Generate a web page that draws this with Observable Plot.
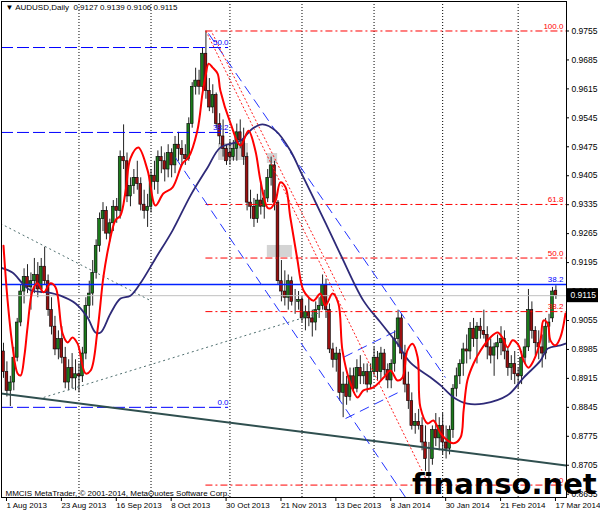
<!DOCTYPE html>
<html><head><meta charset="utf-8">
<script src="https://cdn.jsdelivr.net/npm/d3@7"></script>
<script src="https://cdn.jsdelivr.net/npm/@observablehq/plot@0.6"></script>
<style>
body{margin:0;background:#fff}
#wrap{position:relative;width:600px;height:514px;overflow:hidden}
#wm{position:absolute;left:412px;top:470px;font:bold 29px "DejaVu Sans",sans-serif;line-height:29px;color:#000;white-space:nowrap}
</style></head>
<body><div id="wrap"></div>
<script>
// ---- candle data (bar index = position in arrays) ----
const open = [.8980,.8930,.8885,.8905,.8965,.9050,.9125,.9160,.9135,.9150,.9165,.9130,.9185,.9150,.9080,.9040,.8985,.9010,.8965,.8905,.8940,.8915,
.8925,.8920,.8975,.9090,.9120,.9170,.9235,.9300,.9320,.9265,.9290,.9330,.9320,.9450,.9440,.9355,.9380,.9400,.9385,.9335,.9320,
.9330,.9405,.9390,.9450,.9440,.9420,.9460,.9430,.9480,.9470,.9455,.9445,.9530,.9620,.9635,.9620,.9700,.9610,.9570,.9600,.9530,.9500,.9470,
.9460,.9450,.9470,.9510,.9490,.9450,.9340,.9330,.9300,.9345,.9330,.9350,.9400,.9430,.9340,.9150,.9125,.9110,.9150,.9100,.9100,
.9105,.9060,.9075,.9060,.9050,.9080,.9090,.9140,.9080,.8985,.8960,.8975,.8880,.8900,.8870,.8920,.8890,.8940,.8920,.8930,.8900,
.8930,.8965,.8930,.8975,.8935,.8910,.8950,.9010,.9060,.8975,.8900,.8860,.8800,.8810,.8800,.8760,.8720,.8720,.8790,.8770,.8800,.8760,
.8745,.8790,.8890,.8920,.8950,.8985,.8980,.9035,.9010,.9040,.9030,.9020,.8990,.8970,.8990,.9000,.9010,.8980,.8940,.8950,
.8925,.8920,.8965,.8990,.9080,.9030,.9000,.8990,.8975,.9040,.9060,.9127];
const high = [.9000,.8955,.8920,.8990,.9060,.9140,.9180,.9190,.9170,.9205,.9195,.9205,.9232,.9165,.9110,.9065,.9030,.9040,.8990,.8960,.8975,.8960,
.8950,.8990,.9110,.9150,.9200,.9250,.9315,.9340,.9330,.9300,.9345,.9350,.9465,.9528,.9460,.9400,.9420,.9440,.9400,.9370,.9360,
.9420,.9440,.9465,.9475,.9460,.9480,.9470,.9500,.9510,.9490,.9480,.9545,.9630,.9665,.9660,.9715,.9755,.9640,.9625,.9605,.9555,.9540,.9480,
.9490,.9490,.9530,.9540,.9520,.9460,.9370,.9350,.9360,.9390,.9370,.9420,.9450,.9440,.9345,.9200,.9175,.9165,.9160,.9130,.9125,
.9115,.9090,.9110,.9080,.9100,.9110,.9165,.9155,.9095,.9000,.8990,.8985,.8930,.8920,.8940,.8940,.8960,.8970,.8950,.8950,.8950,
.8990,.8980,.8990,.8985,.8950,.8960,.9030,.9080,.9070,.8995,.8930,.8880,.8830,.8840,.8820,.8800,.8760,.8800,.8830,.8820,.8830,.8800,
.8800,.8900,.8940,.8960,.9000,.9020,.9050,.9060,.9050,.9060,.9080,.9040,.9010,.9000,.9020,.9040,.9030,.8990,.8970,.8980,
.8940,.8980,.9010,.9130,.9100,.9040,.9030,.9020,.9060,.9070,.9135,.9139];
const low = [.8915,.8870,.8847,.8885,.8955,.9040,.9095,.9120,.9080,.9120,.9110,.9120,.9140,.9065,.9020,.8970,.8960,.8950,.8890,.8885,.8890,.8885,
.8880,.8905,.8960,.9060,.9090,.9155,.9220,.9270,.9250,.9245,.9270,.9290,.9300,.9420,.9340,.9330,.9360,.9370,.9320,.9300,.9280,
.9315,.9370,.9360,.9410,.9390,.9400,.9400,.9410,.9440,.9430,.9430,.9440,.9520,.9600,.9600,.9610,.9590,.9560,.9555,.9520,.9480,.9450,.9430,
.9430,.9440,.9440,.9470,.9430,.9320,.9300,.9280,.9290,.9310,.9300,.9340,.9380,.9320,.9140,.9100,.9090,.9080,.9090,.9070,.9080,
.9050,.9030,.9040,.9015,.9030,.9060,.9080,.9060,.8975,.8940,.8930,.8860,.8820,.8850,.8860,.8880,.8880,.8900,.8900,.8880,.8890,
.8920,.8910,.8910,.8920,.8890,.8890,.8930,.8990,.8960,.8880,.8840,.8790,.8780,.8790,.8740,.8690,.8659,.8705,.8750,.8740,.8730,.8720,
.8730,.8770,.8870,.8900,.8920,.8950,.8960,.8990,.8950,.9010,.9010,.8960,.8950,.8920,.8960,.8970,.8960,.8920,.8910,.8900,
.8890,.8900,.8950,.8980,.9010,.8970,.8960,.8940,.8960,.9000,.9050,.9106];
const close = [.8930,.8885,.8905,.8965,.9050,.9125,.9160,.9135,.9150,.9165,.9130,.9185,.9150,.9080,.9040,.8985,.9010,.8965,.8905,.8940,.8915,.8925,
.8920,.8975,.9090,.9120,.9170,.9235,.9300,.9320,.9265,.9290,.9330,.9320,.9450,.9440,.9355,.9380,.9400,.9385,.9335,.9320,.9330,
.9405,.9390,.9450,.9440,.9420,.9460,.9430,.9480,.9470,.9455,.9445,.9530,.9620,.9635,.9620,.9700,.9610,.9570,.9600,.9530,.9500,.9470,.9440,
.9450,.9470,.9510,.9490,.9450,.9340,.9330,.9300,.9345,.9330,.9350,.9400,.9430,.9340,.9150,.9125,.9110,.9150,.9100,.9100,.9105,
.9060,.9075,.9060,.9050,.9080,.9090,.9140,.9080,.8985,.8960,.8975,.8880,.8900,.8870,.8920,.8890,.8940,.8920,.8930,.8900,.8930,
.8965,.8930,.8975,.8935,.8910,.8950,.9010,.9060,.8975,.8900,.8860,.8800,.8810,.8800,.8760,.8720,.8720,.8790,.8770,.8800,.8760,.8745,
.8790,.8890,.8920,.8950,.8985,.8980,.9035,.9010,.9040,.9030,.9020,.8990,.8970,.8990,.9000,.9010,.8980,.8940,.8950,.8925,
.8920,.8965,.8990,.9080,.9030,.9000,.8990,.8975,.9040,.9050,.9125,.9115];

// ---- moving averages (bar, price) ----
const redBar = [0,1.2,2.6,4.1,5,6.1,7,8.5,9.9,11.7,13.7,15.2,17.2,18.7,20.1,21.6,23.9,25.4,27.4,29.1,30.6,32.6,34.1,35.6,37,39.3,42,44.3,46.6,49.3,52.2,53.9,56.5,58,58.9,59.8,60.9,62.4,63.2,66.2,69.1,71.4,73.4,74.9,76.9,77.8,79.3,80.7,82.2,83.6,85.7,86.6,87.4,88.9,90.4,92.4,93.8,95.9,97.6,98.8,101.1,103.2,104.9,107.8,110.8,112.8,114.8,116.3,117.7,119.2,120.7,121.5,123.6,125.3,127.4,129.4,131.2,133.2,134.1,135.2,137,139,141.9,144,145.4,146.9,148.4,150.1,151.6,153,154.5,156.5,157.4,158.6,159.4,160.9,162.3,163.8];
const redPrice = [.9236,.9103,.8995,.8927,.8922,.8970,.9038,.9128,.9145,.9123,.9145,.9135,.9024,.9002,.9014,.8999,.8927,.8934,.9031,.9159,.9232,.9297,.9309,.9369,.9447,.9473,.9418,.9333,.9362,.9377,.9435,.9449,.9514,.9604,.9647,.9676,.9667,.9652,.9611,.9531,.9478,.9514,.9466,.9393,.9328,.9326,.9345,.9389,.9377,.9304,.9200,.9152,.9128,.9111,.9103,.9120,.9091,.9120,.9096,.8982,.8903,.8869,.8886,.8893,.8917,.8934,.8910,.8917,.8982,.8999,.8966,.8845,.8806,.8813,.8782,.8765,.8758,.8772,.8837,.8910,.8951,.8982,.9014,.9026,.9014,.8990,.9007,.8995,.8958,.8941,.8958,.9007,.9055,.9048,.9007,.8995,.9014,.9072];
const navyBar = [-0.9,2.6,5.5,7.9,12.8,16.6,21,24.5,26.8,28.3,31.2,34.1,37,39.9,44.3,49.3,54.5,59.5,63.2,69.1,72.6,75.5,79.3,83.6,86.6,92.4,98.2,104.9,109.9,114.8,118.6,124.5,127.4,131.2,135.2,139.9,146.9,151.6,156.5,158.6,162.3,163.8];
const navyPrice = [.9183,.9171,.9145,.9128,.9123,.9115,.9096,.9062,.9026,.9026,.9072,.9108,.9115,.9145,.9205,.9273,.9357,.9425,.9473,.9490,.9519,.9529,.9514,.9466,.9415,.9316,.9215,.9103,.9050,.8999,.8953,.8917,.8898,.8869,.8854,.8854,.8874,.8917,.8958,.8987,.8995,.8999];

// ---- axes ----
const tickBars = [0,16,32,48,64,80,96,112,128,144,160];
const tickLabels = ["1 Aug 2013","23 Aug 2013","16 Sep 2013","8 Oct 2013","30 Oct 2013","21 Nov 2013","13 Dec 2013","8 Jan 2014","30 Jan 2014","21 Feb 2014","17 Mar 2014"];
const priceTicks = [0.9755,0.9685,0.9615,0.9545,0.9475,0.9405,0.9335,0.9265,0.9195,0.9125,0.9055,0.8985,0.8915,0.8845,0.8775,0.8705,0.8635];
const gridBars = [22,43,66,87,108,128,150];

// ---- objects ----
const fibRedLevels = [0,38.2,50,61.8,100];
const fibRedLow = 0.8657, fibRedHigh = 0.9755, fibRedStart = 59;
const fibBlueLevels = [0,38.2,50];
const fibBlueLow = 0.8845, fibBlueHigh = 1.0585, fibBlueEnd = 65.6;
const blueLevel = 0.9142;
const bid = 0.9115;
const titleText = "\u25BC AUDUSD,Daily\u00a0\u00a00.9127 0.9139 0.9106 0.9115";
const copyText = "MMCIS MetaTrader, \u00a9 2001-2014, MetaQuotes Software Corp.";
const grayRects = [{x1:62.7,x2:71.4,y1:0.94830,y2:0.94419},{x1:76.9,x2:79.9,y1:0.94588,y2:0.94346},{x1:76.9,x2:84.2,y1:0.92364,y2:0.92074}];
const tealLines = [{x1:-0.9,y1:0.88785,x2:164.1,y2:0.87044}];
const grayDotLines = [{x1:-0.9,y1:0.92895,x2:42.8,y2:0.91033},{x1:11.7,y1:0.88689,x2:92.4,y2:0.90744}];
const blueChannel = [{x1:59.75,y1:0.9749,x2:128.8,y2:0.8917},{x1:50.1,y1:0.9449,x2:117.2,y2:0.8627},{x1:99.1,y1:0.8966,x2:114.8,y2:0.9031},{x1:99.7,y1:0.8818,x2:116.3,y2:0.8886}];
const redDotLines = [{x1:59,y1:0.9755,x2:124,y2:0.8657},{x1:60.9,y1:0.9749,x2:99.7,y2:0.9103}];

const xMin = -0.58, xMax = 164.09;
const bars = close.map((c,i)=>({i,o:open[i],h:high[i],l:low[i],c}));
const up = bars.filter(d=>d.c>=d.o), dn = bars.filter(d=>d.c<d.o);
const redMA = redBar.map((b,k)=>({b,p:redPrice[k]}));
const navyMA = navyBar.map((b,k)=>({b,p:navyPrice[k]}));
const fibR = fibRedLevels.map(l=>({l,p:fibRedLow+l/100*(fibRedHigh-fibRedLow)}));
const fibB = fibBlueLevels.map(l=>({l,p:fibBlueLow+l/100*(fibBlueHigh-fibBlueLow)}));

const chart = Plot.plot({
  width:600, height:514,
  marginLeft:1, marginRight:34, marginTop:1, marginBottom:17,
  x:{domain:[xMin,xMax], axis:null},
  y:{domain:[0.8627,0.98263], axis:null},
  style:{fontFamily:"'Liberation Sans', Arial, sans-serif", fontSize:"8px", background:"#fff", overflow:"visible", color:"#000"},
  marks:[
    Plot.rect(grayRects,{x1:"x1",x2:"x2",y1:"y1",y2:"y2",fill:"#d4d4d4"}),
    Plot.ruleX(gridBars,{stroke:"#000",strokeDasharray:"1,2",strokeWidth:1}),
    // candles
    Plot.ruleX(bars,{x:"i",y1:"l",y2:"h",stroke:"#222",strokeWidth:1}),
    Plot.rect(up,{x1:d=>d.i-0.4,x2:d=>d.i+0.4,y1:"o",y2:"c",fill:"#1b7a1b",stroke:"#000",strokeWidth:0.6}),
    Plot.rect(dn,{x1:d=>d.i-0.4,x2:d=>d.i+0.4,y1:"o",y2:"c",fill:"#9a1010",stroke:"#000",strokeWidth:0.6}),
    // horizontal levels
    Plot.ruleY(fibR,{y:"p",x1:fibRedStart,x2:xMax,stroke:"#ff0000",strokeDasharray:"7,3,2,3",strokeWidth:1}),
    Plot.ruleY(fibB,{y:"p",x1:xMin,x2:fibBlueEnd,stroke:"#0000ff",strokeDasharray:"12,4",strokeWidth:1}),
    Plot.ruleY([bid],{stroke:"#c0c0c0",strokeWidth:1}),
    Plot.ruleY([blueLevel],{stroke:"#0022ff",strokeWidth:1.6}),
    // diagonal objects
    Plot.link(tealLines,{x1:"x1",y1:"y1",x2:"x2",y2:"y2",stroke:"#2f4f4f",strokeWidth:2,clip:true}),
    Plot.link(grayDotLines,{x1:"x1",y1:"y1",x2:"x2",y2:"y2",stroke:"#4f6f6f",strokeDasharray:"2,3",strokeWidth:1,clip:true}),
    Plot.link(blueChannel,{x1:"x1",y1:"y1",x2:"x2",y2:"y2",stroke:"#2233ff",strokeDasharray:"10,6",strokeWidth:1,clip:true}),
    Plot.link(redDotLines,{x1:"x1",y1:"y1",x2:"x2",y2:"y2",stroke:"#ff2020",strokeDasharray:"2,2",strokeWidth:1,clip:true}),
    // moving averages
    Plot.line(navyMA,{x:"b",y:"p",stroke:"#2e2a78",strokeWidth:1.8,curve:"catmull-rom",clip:true}),
    Plot.line(redMA,{x:"b",y:"p",stroke:"#ff0000",strokeWidth:2,curve:"catmull-rom",clip:true}),
    // labels
    Plot.text(fibR,{x:163.2,y:"p",text:d=>d.l.toFixed(1),textAnchor:"end",dy:-5,fill:"#ff0000",fontSize:8}),
    Plot.text(fibB,{x:fibBlueEnd,y:"p",text:d=>d.l.toFixed(1),textAnchor:"end",dy:-5,fill:"#0000ff",fontSize:8}),
    Plot.text([blueLevel],{x:163.2,y:d=>d,text:()=>"38.2",textAnchor:"end",dy:-5,fill:"#0000ff",fontSize:8}),
    Plot.text([titleText],{frameAnchor:"top-left",dx:4,dy:3,lineAnchor:"top",textAnchor:"start",fontSize:8,fill:"#000"}),
    Plot.text([copyText],{frameAnchor:"bottom-left",dx:4,dy:-2,lineAnchor:"bottom",textAnchor:"start",fontSize:8,fill:"#000"}),
    // axes
    Plot.frame({stroke:"#000"}),
    Plot.axisY(priceTicks,{anchor:"right",tickSize:2,tickPadding:3,tickFormat:d=>d.toFixed(4),fontSize:8.5}),
    Plot.axisX(tickBars,{anchor:"bottom",tickSize:4,tickPadding:1,tickFormat:d=>tickLabels[tickBars.indexOf(d)],textAnchor:"start",dx:3,fontSize:8}),
    // current price box
    Plot.rect([bid],{x1:xMax,x2:xMax,y1:d=>d,y2:d=>d,insetRight:-32,insetTop:-7,insetBottom:-7,fill:"#000"}),
    Plot.text([bid],{x:xMax,y:d=>d,text:d=>d.toFixed(4),textAnchor:"start",dx:4,fill:"#fff",fontSize:8.5})
  ]
});
const wrap = document.getElementById("wrap");
wrap.appendChild(chart);
const wm = document.createElement("div");
wm.id = "wm"; wm.textContent = "finanso.net";
wrap.appendChild(wm);
</script>
</body></html>
